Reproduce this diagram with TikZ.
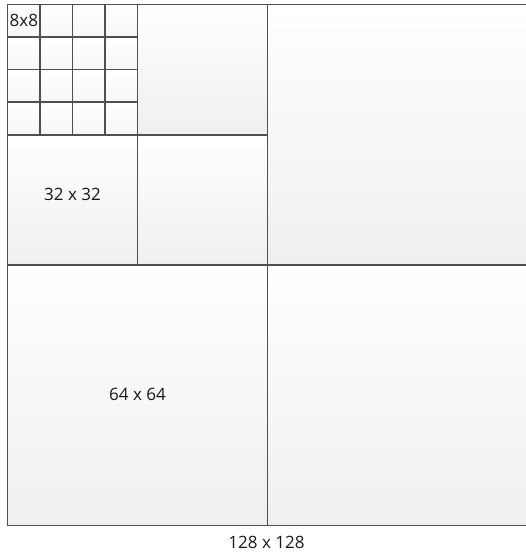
\documentclass[tikz,border=0pt]{standalone}
\usepackage{fontspec}
\setmainfont{Open Sans}
\usetikzlibrary{positioning}
\definecolor{edgegray}{RGB}{80,80,80}
\definecolor{fillgray}{RGB}{239,239,239}
\definecolor{textgray}{RGB}{25,25,25}
\tikzset{
  blk/.style={draw=edgegray,line width=1.1pt,top color=white,bottom color=fillgray},
  cell/.style={draw=edgegray,line width=1.1pt,top color=white,bottom color=fillgray!50},
  lbl/.style={font=\fontsize{17}{20}\selectfont,text=textgray,inner sep=1pt}
}

\begin{document}
\begin{tikzpicture}[x=1pt,y=-1pt]
  \useasboundingbox (0,0) rectangle (526,552);
  % 64 x 64 blocks
  \draw[blk] (267.5,4.5) rectangle (527.5,265);
  \draw[blk] (7.5,265) rectangle (267.5,525.5);
  \draw[blk] (267.5,265) rectangle (527.5,525.5);
  % 32 x 32 blocks
  \draw[blk] (137.5,4.5) rectangle (267.5,135);
  \draw[blk] (7.5,135) rectangle (137.5,265);
  \draw[blk] (137.5,135) rectangle (267.5,265);
  % 8 x 8 blocks
  \foreach \i in {0,...,3}
    \foreach \j in {0,...,3}
      \draw[cell] (7.5+32.5*\i,4.5+32.5*\j) rectangle ++(32.5,32.5);

  \node[lbl,anchor=west] (l8) at (8.5,20) {8x8};
  \node[lbl] (l32) at (72.5,194) {32 x 32};
  \node[lbl] (l64) at (137.5,394.5) {64 x 64};
  \node[lbl] (l128) at (266.5,542) {128 x 128};
\end{tikzpicture}
\end{document}
